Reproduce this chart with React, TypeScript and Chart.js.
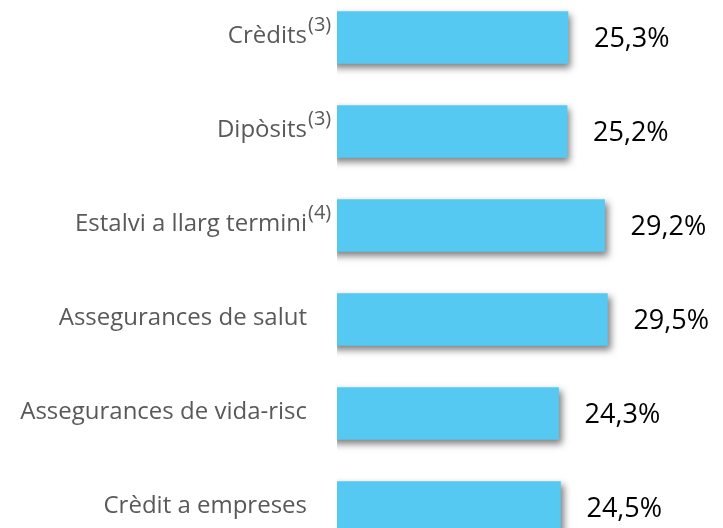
import React, { useEffect, useRef } from "react";
import { Chart, registerables } from "chart.js";

Chart.register(...registerables);

const categories = [
  "Crèdits",
  "Dipòsits",
  "Estalvi a llarg termini",
  "Assegurances de salut",
  "Assegurances de vida-risc",
  "Crèdit a empreses",
];
const notes = ["(3)", "(3)", "(4)", "", "", ""];
const values = [25.3, 25.2, 29.2, 29.5, 24.3, 24.5];
const valueLabels = ["25,3%", "25,2%", "29,2%", "29,5%", "24,3%", "24,5%"];

const BAR_COLOR = "#55C9F2";

const shadowPlugin = {
  id: "barShadow",
  beforeDatasetsDraw(chart: any) {
    const ctx = chart.ctx;
    ctx.save();
    ctx.shadowColor = "rgba(0,0,0,0.5)";
    ctx.shadowBlur = 7;
    ctx.shadowOffsetX = 3;
    ctx.shadowOffsetY = 4;
  },
  afterDatasetsDraw(chart: any) {
    chart.ctx.restore();
  },
};

const labelPlugin = {
  id: "barLabels",
  afterDatasetsDraw(chart: any) {
    const ctx = chart.ctx;
    const area = chart.chartArea;
    const meta = chart.getDatasetMeta(0);
    meta.data.forEach((bar: any, i: number) => {
      const y = bar.y;
      ctx.save();
      ctx.textBaseline = "middle";
      ctx.font = '24px "Open Sans"';
      ctx.fillStyle = "#595959";
      ctx.textAlign = "right";
      const xr = area.left - 30;
      ctx.fillText(categories[i], xr, y - 1);
      if (notes[i]) {
        ctx.font = '20px "Open Sans"';
        ctx.textAlign = "left";
        ctx.fillText(notes[i], xr + 1, y - 12);
      }
      ctx.font = '500 27px "Open Sans"';
      ctx.fillStyle = "#000000";
      ctx.textAlign = "left";
      ctx.fillText(valueLabels[i], bar.x + 26, y + 2);
      ctx.restore();
    });
  },
};

export default function App() {
  const ref = useRef<HTMLCanvasElement | null>(null);
  useEffect(() => {
    if (!ref.current) return;
    const chart = new Chart(ref.current, {
      type: "bar",
      data: {
        labels: categories,
        datasets: [
          {
            data: values,
            backgroundColor: BAR_COLOR,
            borderWidth: 0,
            barThickness: 52,
            clip: { left: 0, top: false, right: false, bottom: false } as any,
          },
        ],
      },
      options: {
        indexAxis: "y",
        animation: false,
        responsive: false,
        events: [],
        layout: { padding: { left: 337, right: 17, top: 37.5, bottom: 20.5 } },
        plugins: { legend: { display: false }, tooltip: { enabled: false } },
        scales: {
          x: { display: false, min: 0.7, max: 40, grid: { display: false } },
          y: { display: false, offset: false, grid: { display: false } },
        },
      },
      plugins: [shadowPlugin, labelPlugin],
    });
    return () => chart.destroy();
  }, []);
  return (
    <div style={{ position: "absolute", left: 0, top: 0, width: 723, height: 528, background: "#fff" }}>
      <canvas ref={ref} width={723} height={528} style={{ display: "block" }} />
    </div>
  );
}
